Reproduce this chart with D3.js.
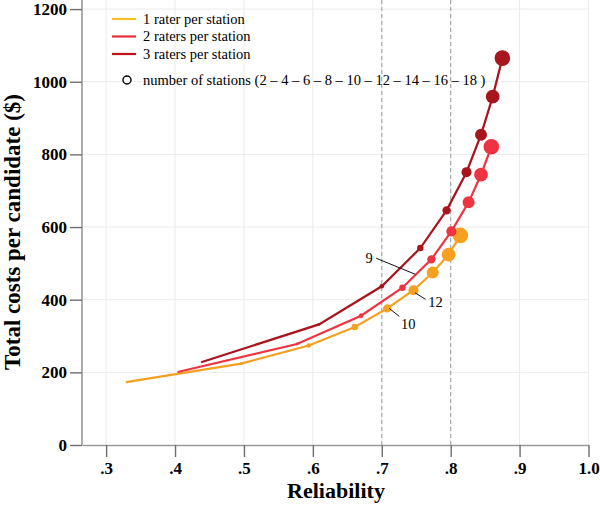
<!DOCTYPE html>
<html>
<head>
<meta charset="utf-8">
<script src="https://cdn.jsdelivr.net/npm/d3@7"></script>
<style>
  html, body { margin: 0; padding: 0; background: #fff; }
  svg { display: block; }
  text { font-family: "Liberation Serif", "Times New Roman", serif; }
</style>
</head>
<body>
<script>
// ---- data ----
const stations = [2, 4, 6, 8, 10, 12, 14, 16, 18];
const seriesNames = ["1 rater per station", "2 raters per station", "3 raters per station"];
const rel1 = [0.329, 0.496, 0.594, 0.661, 0.708, 0.746, 0.774, 0.797, 0.814];
const cost1 = [173, 224, 274, 325, 376, 426, 475, 524, 577];
const rel2 = [0.404, 0.577, 0.670, 0.730, 0.772, 0.801, 0.826, 0.844, 0.859];
const cost2 = [201, 278, 356, 433, 511, 588, 668, 744, 821];
const rel3 = [0.438, 0.609, 0.700, 0.756, 0.794, 0.823, 0.844, 0.861, 0.875];
const cost3 = [228, 332, 437, 542, 646, 751, 854, 959, 1065];
const xTicks = [0.3, 0.4, 0.5, 0.6, 0.7, 0.8, 0.9, 1.0];
const xTickLabels = [".3", ".4", ".5", ".6", ".7", ".8", ".9", "1.0"];
const yTicks = [0, 200, 400, 600, 800, 1000, 1200];
const refLines = [0.7, 0.8];
const annotations = [
  { text: "9", rel: 0.750, cost: 470 },
  { text: "10", rel: 0.708, cost: 376 },
  { text: "12", rel: 0.746, cost: 426 }
];
const stationLegend = "number of stations (2 – 4 – 6 – 8 – 10 – 12 – 14 – 16 – 18 )";

// ---- styles ----
const colors = ["#F5A01F", "#EE3440", "#A9151D"];
const legendColors = ["#F4BE25", "#EA2F3A", "#C0121B"];

const W = 600, H = 506;
const svg = d3.select("body").append("svg").attr("width", W).attr("height", H);

const x = d3.scaleLinear().domain([0.265, 1.0]).range([82, 588.5]);
const y = d3.scaleLinear().domain([0, 1225]).range([445, 0]);
const r = d3.scaleLinear().domain([2, 18]).range([0.5, 7.8]);

// gridlines
svg.append("g").selectAll("line").data(xTicks).join("line")
  .attr("x1", d => x(d)).attr("x2", d => x(d)).attr("y1", 0).attr("y2", y(0))
  .attr("stroke", "#ebebeb").attr("stroke-width", 1);
svg.append("g").selectAll("line").data(yTicks.filter(d => d > 0)).join("line")
  .attr("x1", x.range()[0]).attr("x2", x.range()[1]).attr("y1", d => y(d)).attr("y2", d => y(d))
  .attr("stroke", "#ebebeb").attr("stroke-width", 1);

// reference dashed lines
svg.append("g").selectAll("line").data(refLines).join("line")
  .attr("x1", d => x(d)).attr("x2", d => x(d)).attr("y1", 0).attr("y2", y(0))
  .attr("stroke", "#a8a8a8").attr("stroke-width", 1.2).attr("stroke-dasharray", "4,3");

// axes
const xAxis = d3.axisBottom(x).tickValues(xTicks).tickFormat((d, i) => xTickLabels[i])
  .tickSize(12).tickSizeOuter(0).tickPadding(5);
const gx = svg.append("g").attr("transform", `translate(0,${y(0)})`).call(xAxis);
const yAxis = d3.axisLeft(y).tickValues(yTicks).tickFormat(d3.format("d"))
  .tickSize(12).tickSizeOuter(0).tickPadding(3);
const gy = svg.append("g").attr("transform", `translate(${x.range()[0]},0)`).call(yAxis);
[gx, gy].forEach(g => {
  g.select(".domain").attr("stroke", "#9a9a9a").attr("stroke-width", 1.6);
  g.selectAll(".tick line").attr("stroke", "#6e6e6e").attr("stroke-width", 1.4);
  g.selectAll(".tick text").attr("font-family", "'Liberation Serif', serif")
    .attr("font-weight", "bold").attr("font-size", 17).attr("fill", "#000");
});
gy.select(".domain").attr("d", `M0,${y(0)}V0`);

// axis titles
svg.append("text").attr("x", 336).attr("y", 498).attr("text-anchor", "middle")
  .attr("font-weight", "bold").attr("font-size", 22).text("Reliability");
svg.append("text").attr("transform", "translate(20,232) rotate(-90)").attr("text-anchor", "middle")
  .attr("font-weight", "bold").attr("font-size", 23).text("Total costs per candidate ($)");

// series
const series = [[rel1, cost1], [rel2, cost2], [rel3, cost3]].map(([rs, cs], k) => ({
  k, pts: stations.map((s, i) => ({ s, rel: rs[i], cost: cs[i] }))
}));
const line = d3.line().x(d => x(d.rel)).y(d => y(d.cost));
series.forEach(se => {
  svg.append("path").datum(se.pts).attr("d", line).attr("fill", "none")
    .attr("stroke", colors[se.k]).attr("stroke-width", 2.2);
  svg.append("g").selectAll("circle").data(se.pts).join("circle")
    .attr("cx", d => x(d.rel)).attr("cy", d => y(d.cost)).attr("r", d => r(d.s))
    .attr("fill", colors[se.k]);
});

// annotations
const annOffsets = { "9": { tx: -47, ty: -16, lx1: -40, ly1: -16, lx2: -1, ly2: 0 },
                     "10": { tx: 21, ty: 16, lx1: 2, ly1: 0, lx2: 12, ly2: 8 },
                     "12": { tx: 22, ty: 12, lx1: 1.5, ly1: 2.5, lx2: 12, ly2: 9 } };
annotations.forEach(a => {
  const o = annOffsets[a.text];
  const ax = x(a.rel), ay = y(a.cost);
  svg.append("line").attr("x1", ax + o.lx1).attr("y1", ay + o.ly1)
    .attr("x2", ax + o.lx2).attr("y2", ay + o.ly2).attr("stroke", "#111").attr("stroke-width", 1);
  svg.append("text").attr("x", ax + o.tx).attr("y", ay + o.ty + 5).attr("text-anchor", "middle")
    .attr("font-size", 14.5).text(a.text);
});

// legend
const lg = svg.append("g");
seriesNames.forEach((n, i) => {
  const ly = 19 + i * 17.5;
  lg.append("line").attr("x1", 112).attr("x2", 136).attr("y1", ly).attr("y2", ly)
    .attr("stroke", legendColors[i]).attr("stroke-width", 2.2);
  lg.append("text").attr("x", 143).attr("y", ly + 4.5).attr("font-size", 14.5).text(n);
});
lg.append("circle").attr("cx", 127).attr("cy", 80).attr("r", 4)
  .attr("fill", "none").attr("stroke", "#000").attr("stroke-width", 1.4);
lg.append("text").attr("x", 143).attr("y", 84.5).attr("font-size", 14.5).text(stationLegend);
</script>
</body>
</html>
